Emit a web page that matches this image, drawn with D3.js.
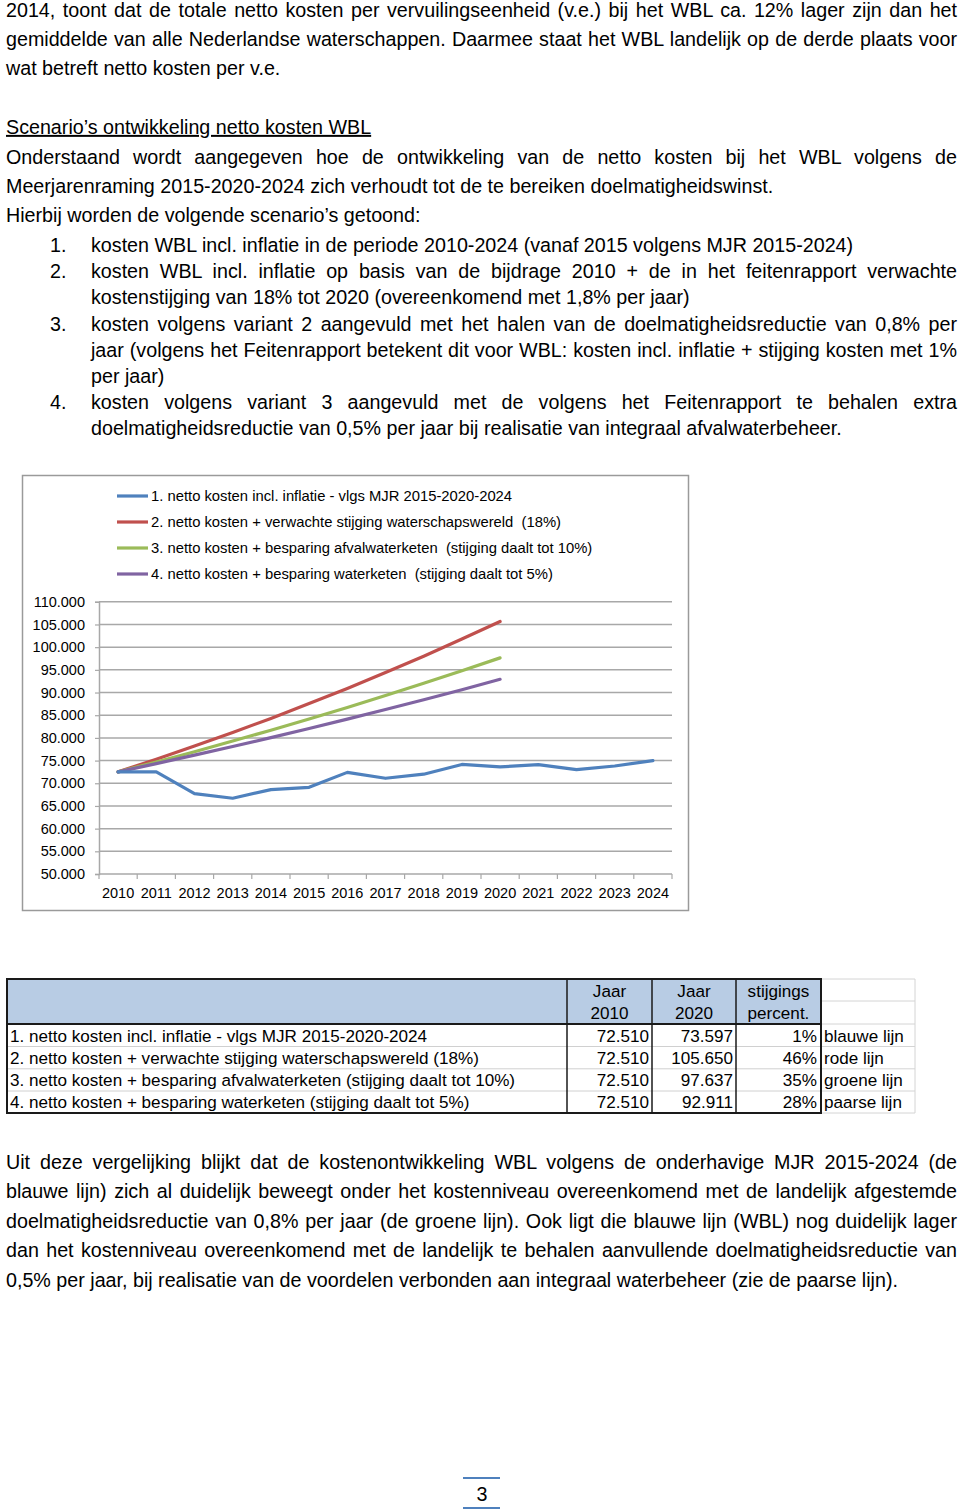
<!DOCTYPE html>
<html>
<head>
<meta charset="utf-8">
<script src="https://cdn.jsdelivr.net/npm/d3@7/dist/d3.min.js"></script>
<style>
  html, body { margin: 0; padding: 0; background: #fff; }
  svg { display: block; }
  text { font-family: "Liberation Sans", Arial, sans-serif; fill: #000; }
</style>
</head>
<body>
<svg id="page" width="960" height="1510"></svg>
<script>
// ---------------- DATA ----------------
const years = [2010, 2011, 2012, 2013, 2014, 2015, 2016, 2017, 2018, 2019, 2020, 2021, 2022, 2023, 2024];
const seriesNames = [
  "1. netto kosten incl. inflatie - vlgs MJR 2015-2020-2024",
  "2. netto kosten + verwachte stijging waterschapswereld  (18%)",
  "3. netto kosten + besparing afvalwaterketen  (stijging daalt tot 10%)",
  "4. netto kosten + besparing waterketen  (stijging daalt tot 5%)"
];
const blueValues   = [72510, 72510, 67700, 66700, 68600, 69100, 72400, 71100, 72000, 74150, 73597, 74100, 73000, 73800, 75000];
const redValues    = [72510, 75300, 78200, 81200, 84300, 87600, 90900, 94400, 98000, 101800, 105650];
const greenValues  = [72510, 74700, 76950, 79300, 81700, 84150, 86700, 89350, 92050, 94800, 97637];
const purpleValues = [72510, 74330, 76200, 78100, 80070, 82080, 84140, 86250, 88410, 90630, 92911];
const seriesColors = ["#4F81BD", "#C0504D", "#9BBB59", "#8064A2"];
const yTicks = [50000, 55000, 60000, 65000, 70000, 75000, 80000, 85000, 90000, 95000, 100000, 105000, 110000];

const tableLabels = [
  "1. netto kosten incl. inflatie - vlgs MJR 2015-2020-2024",
  "2. netto kosten + verwachte stijging waterschapswereld (18%)",
  "3. netto kosten + besparing afvalwaterketen (stijging daalt tot 10%)",
  "4. netto kosten + besparing waterketen (stijging daalt tot 5%)"
];
const table2010 = [72510, 72510, 72510, 72510];
const table2020 = [73597, 105650, 97637, 92911];
const tablePct = ["1%", "46%", "35%", "28%"];
const tableColorNames = ["blauwe lijn", "rode lijn", "groene lijn", "paarse lijn"];
const tableHeader = [["Jaar", "2010"], ["Jaar", "2020"], ["stijgings", "percent."]];

// Page text (line by line, flag = justified)
const para1 = [
  ["2014, toont dat de totale netto kosten per vervuilingseenheid (v.e.) bij het WBL ca. 12% lager zijn dan het", true],
  ["gemiddelde van alle Nederlandse waterschappen. Daarmee staat het WBL landelijk op de derde plaats voor", true],
  ["wat betreft netto kosten per v.e.", false]
];
const heading = "Scenario’s ontwikkeling netto kosten WBL";
const para2 = [
  ["Onderstaand wordt aangegeven hoe de ontwikkeling van de netto kosten bij het WBL volgens de", true],
  ["Meerjarenraming 2015-2020-2024 zich verhoudt tot de te bereiken doelmatigheidswinst.", false],
  ["Hierbij worden de volgende scenario’s getoond:", false]
];
const listItems = [
  ["1.", [["kosten WBL incl. inflatie in de periode 2010-2024 (vanaf 2015 volgens MJR 2015-2024)", false]]],
  ["2.", [["kosten WBL incl. inflatie op basis van de bijdrage 2010 + de in het feitenrapport verwachte", true],
          ["kostenstijging van 18% tot 2020 (overeenkomend met 1,8% per jaar)", false]]],
  ["3.", [["kosten volgens variant 2 aangevuld met het halen van de doelmatigheidsreductie van 0,8% per", true],
          ["jaar (volgens het Feitenrapport betekent dit voor WBL: kosten incl. inflatie + stijging kosten met 1%", true],
          ["per jaar)", false]]],
  ["4.", [["kosten volgens variant 3 aangevuld met de volgens het Feitenrapport te behalen extra", true],
          ["doelmatigheidsreductie van 0,5% per jaar bij realisatie van integraal afvalwaterbeheer.", false]]]
];
const para3 = [
  ["Uit deze vergelijking blijkt dat de kostenontwikkeling WBL volgens de onderhavige MJR 2015-2024 (de", true],
  ["blauwe lijn) zich al duidelijk beweegt onder het kostenniveau overeenkomend met de landelijk afgestemde", true],
  ["doelmatigheidsreductie van 0,8% per jaar (de groene lijn). Ook ligt die blauwe lijn (WBL) nog duidelijk lager", true],
  ["dan het kostenniveau overeenkomend met de landelijk te behalen aanvullende doelmatigheidsreductie van", true],
  ["0,5% per jaar, bij realisatie van de voordelen verbonden aan integraal waterbeheer (zie de paarse lijn).", false]
];
const pageNumber = "3";

// ---------------- RENDER ----------------
const svg = d3.select("#page");
const BODY_FS = 19.7;

function textLine(x, yCenter, w, str, justify, fs) {
  const t = svg.append("text")
    .attr("x", x).attr("y", yCenter + fs * 0.35)
    .style("font-size", fs + "px")
    .text(str);
  const L = t.node().getComputedTextLength();
  const nSp = (str.match(/ /g) || []).length;
  if (justify && nSp > 0) {
    t.style("word-spacing", ((w - L) / nSp) + "px");
  } else if (L > w) {
    t.attr("textLength", w).attr("lengthAdjust", "spacingAndGlyphs");
  }
  return t;
}

const LX = 6, RX = 957;
para1.forEach((d, i) => textLine(LX, 10 + i * 29.2, RX - LX, d[0], d[1], BODY_FS));
textLine(LX, 127, RX - LX, heading, false, BODY_FS).style("text-decoration", "underline");
para2.forEach((d, i) => textLine(LX, 157 + i * 29.2, RX - LX, d[0], d[1], BODY_FS));
const listY = [[245], [271, 297], [324, 350, 376], [402, 428]];
listItems.forEach((item, i) => {
  textLine(50, listY[i][0], 40, item[0], false, BODY_FS);
  item[1].forEach((ln, j) => textLine(91, listY[i][j], RX - 91, ln[0], ln[1], BODY_FS));
});
para3.forEach((d, i) => textLine(LX, 1162 + i * 29.5, RX - LX, d[0], d[1], BODY_FS));

// ---- Chart ----
svg.append("rect").attr("x", 22.5).attr("y", 475.5).attr("width", 666).attr("height", 435)
  .attr("fill", "#fff").attr("stroke", "#9a9a9a").attr("stroke-width", 1.5);

const x = d3.scaleBand().domain(years).range([99, 672]);
const y = d3.scaleLinear().domain([50000, 110000]).range([874, 601.8]);
const nl = d3.formatLocale({ decimal: ",", thousands: ".", grouping: [3], currency: ["€", ""] });
const fmt = nl.format(",");
const AX_FS = 14.5;

const grid = svg.append("g");
grid.selectAll("line").data(yTicks).join("line")
  .attr("x1", 99).attr("x2", 672)
  .attr("y1", d => y(d)).attr("y2", d => y(d))
  .attr("stroke", "#a8a8a8").attr("stroke-width", 1.5);

const yAxis = svg.append("g").attr("transform", "translate(99,0)")
  .call(d3.axisLeft(y).tickValues(yTicks).tickSize(4).tickPadding(10).tickFormat(fmt));
yAxis.select(".domain").attr("stroke", "#a8a8a8").attr("stroke-width", 1.5);
yAxis.selectAll(".tick line").attr("stroke", "#a8a8a8").attr("stroke-width", 1.2);
yAxis.selectAll("text").style("font-size", AX_FS + "px").attr("fill", "#000");

const xAxis = svg.append("g").attr("transform", "translate(0,874)")
  .call(d3.axisBottom(x).tickSize(0).tickPadding(14));
xAxis.select(".domain").remove();
xAxis.selectAll("text").style("font-size", AX_FS + "px").attr("fill", "#000");
// band boundary ticks
svg.append("g").selectAll("line").data(years.concat([null])).join("line")
  .attr("x1", (d, i) => i < years.length ? x(d) : x.range()[1])
  .attr("x2", (d, i) => i < years.length ? x(d) : x.range()[1])
  .attr("y1", 874).attr("y2", 879)
  .attr("stroke", "#a8a8a8").attr("stroke-width", 1.2);

const allSeries = [blueValues, redValues, greenValues, purpleValues];
const line = d3.line().x((d, i) => x(years[i]) + x.bandwidth() / 2).y(d => y(d));
[1, 2, 3, 0].forEach(k => {
  svg.append("path").datum(allSeries[k]).attr("d", line)
    .attr("fill", "none").attr("stroke", seriesColors[k]).attr("stroke-width", 3.2)
    .attr("stroke-linejoin", "round").attr("stroke-linecap", "round");
});

// legend
const legY = [496, 522, 548, 574];
seriesNames.forEach((name, i) => {
  svg.append("line").attr("x1", 117).attr("x2", 148).attr("y1", legY[i]).attr("y2", legY[i])
    .attr("stroke", seriesColors[i]).attr("stroke-width", 3.2);
  svg.append("text").attr("x", 151).attr("y", legY[i] + 5)
    .style("font-size", "14.8px").style("white-space", "pre").attr("xml:space", "preserve").text(name);
});

// ---- Table ----
const colX = [7, 567, 652, 736, 821, 915];
const rowY = [979, 1024, 1046.5, 1068.8, 1091, 1113];
const T_FS = 17.1;
const tg = svg.append("g");
tg.append("rect").attr("x", colX[0]).attr("y", rowY[0]).attr("width", colX[4] - colX[0])
  .attr("height", rowY[1] - rowY[0]).attr("fill", "#B8CCE4");
for (let r = 0; r < rowY.length; r++) {
  tg.append("line").attr("x1", colX[4]).attr("x2", colX[5]).attr("y1", rowY[r]).attr("y2", rowY[r])
    .attr("stroke", "#d4d4d4").attr("stroke-width", 1);
}
tg.append("line").attr("x1", colX[4]).attr("x2", colX[5]).attr("y1", 1001).attr("y2", 1001)
  .attr("stroke", "#d4d4d4").attr("stroke-width", 1);
tg.append("line").attr("x1", colX[5]).attr("x2", colX[5]).attr("y1", rowY[0]).attr("y2", rowY[5])
  .attr("stroke", "#d4d4d4").attr("stroke-width", 1);
for (let r = 2; r < 5; r++) {
  tg.append("line").attr("x1", colX[0]).attr("x2", colX[4]).attr("y1", rowY[r]).attr("y2", rowY[r])
    .attr("stroke", "#d0d0d0").attr("stroke-width", 1);
}
tg.append("rect").attr("x", colX[0]).attr("y", rowY[0]).attr("width", colX[4] - colX[0])
  .attr("height", rowY[5] - rowY[0]).attr("fill", "none").attr("stroke", "#1a1a1a").attr("stroke-width", 2);
[1, 2, 3].forEach(c => tg.append("line").attr("x1", colX[c]).attr("x2", colX[c])
  .attr("y1", rowY[0]).attr("y2", rowY[5]).attr("stroke", "#1a1a1a").attr("stroke-width", 1.5));
tg.append("line").attr("x1", colX[0]).attr("x2", colX[4]).attr("y1", rowY[1]).attr("y2", rowY[1])
  .attr("stroke", "#1a1a1a").attr("stroke-width", 2);

tableHeader.forEach((h, i) => {
  const cx = (colX[i + 1] + colX[i + 2]) / 2;
  h.forEach((s, j) => tg.append("text").attr("x", cx).attr("y", 991 + j * 22 + 6)
    .attr("text-anchor", "middle").style("font-size", T_FS + "px").text(s));
});
const rowC = [1036, 1058, 1080, 1102];
tableLabels.forEach((s, i) => {
  tg.append("text").attr("x", 10).attr("y", rowC[i] + 6).style("font-size", T_FS + "px").text(s);
  tg.append("text").attr("x", colX[2] - 3).attr("y", rowC[i] + 6).attr("text-anchor", "end")
    .style("font-size", T_FS + "px").text(fmt(table2010[i]));
  tg.append("text").attr("x", colX[3] - 3).attr("y", rowC[i] + 6).attr("text-anchor", "end")
    .style("font-size", T_FS + "px").text(fmt(table2020[i]));
  tg.append("text").attr("x", colX[4] - 4).attr("y", rowC[i] + 6).attr("text-anchor", "end")
    .style("font-size", T_FS + "px").text(tablePct[i]);
  tg.append("text").attr("x", colX[4] + 3).attr("y", rowC[i] + 6)
    .style("font-size", T_FS + "px").text(tableColorNames[i]);
});

// page number
svg.append("line").attr("x1", 463).attr("x2", 500).attr("y1", 1478).attr("y2", 1478)
  .attr("stroke", "#4F81BD").attr("stroke-width", 2);
svg.append("line").attr("x1", 463).attr("x2", 500).attr("y1", 1508).attr("y2", 1508)
  .attr("stroke", "#4F81BD").attr("stroke-width", 2);
svg.append("text").attr("x", 482).attr("y", 1494 + 6.5).attr("text-anchor", "middle")
  .style("font-size", BODY_FS + "px").text(pageNumber);
</script>
</body>
</html>
